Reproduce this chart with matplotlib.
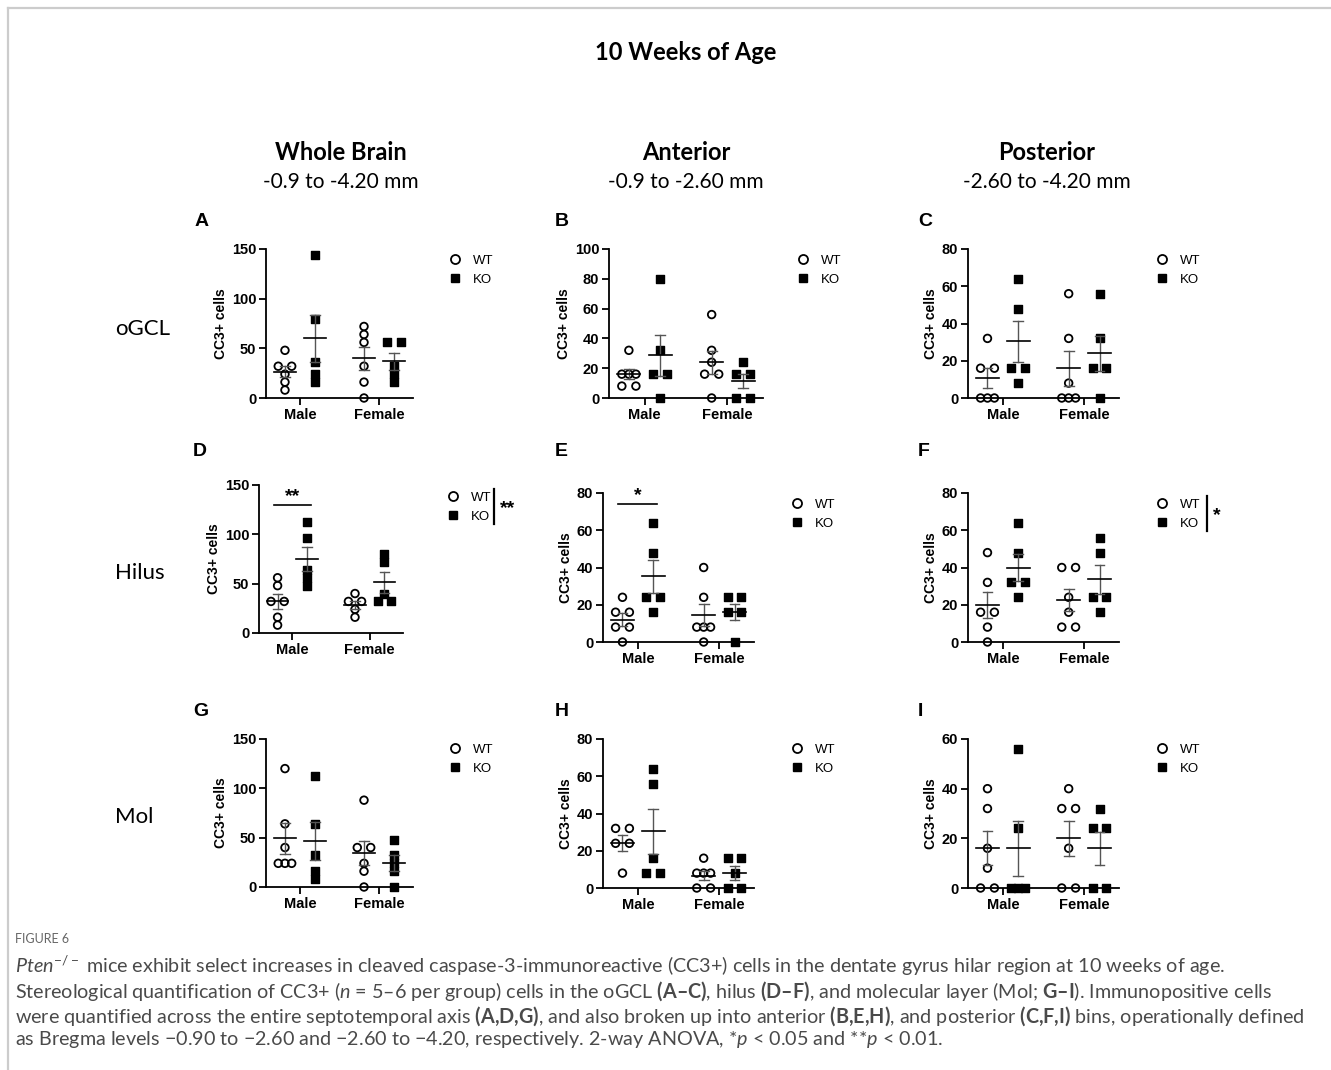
import numpy as np
import matplotlib
matplotlib.use("Agg")
import matplotlib.pyplot as plt
from matplotlib.lines import Line2D

W, H = 1331, 1070

plt.rcParams['font.family'] = ['Liberation Sans', 'DejaVu Sans']
plt.rcParams['mathtext.fontset'] = 'custom'
plt.rcParams['mathtext.rm'] = 'Lato'
plt.rcParams['mathtext.it'] = 'Lato:italic'
plt.rcParams['mathtext.bf'] = 'Lato:bold'

# ---- data (CC3+ cells per animal) ----
groups = ['Male', 'Female']
genotypes = ['WT', 'KO']

panel_letters = ['A', 'B', 'C', 'D', 'E', 'F', 'G', 'H', 'I']
row_names = ['oGCL', 'Hilus', 'Mol']
col_titles = ['Whole Brain', 'Anterior', 'Posterior']
col_ranges = ['-0.9 to -4.20 mm', '-0.9 to -2.60 mm', '-2.60 to -4.20 mm']

a_male_wt = [48, 32, 32, 24, 16, 8]
a_male_ko = [144, 80, 36, 24, 16]
a_female_wt = [72, 64, 56, 32, 16, 0]
a_female_ko = [56, 56, 32, 24, 16]

b_male_wt = [32, 16, 16, 16, 8, 8]
b_male_ko = [80, 32, 16, 16, 0]
b_female_wt = [56, 32, 24, 16, 16, 0]
b_female_ko = [24, 16, 16, 0, 0]

c_male_wt = [32, 16, 16, 0, 0, 0]
c_male_ko = [64, 48, 16, 16, 8]
c_female_wt = [56, 32, 8, 0, 0, 0]
c_female_ko = [56, 32, 16, 16, 0]

d_male_wt = [56, 48, 32, 32, 16, 8]
d_male_ko = [112, 96, 64, 56, 48]
d_female_wt = [40, 32, 32, 24, 16]
d_female_ko = [80, 72, 40, 32, 32]

e_male_wt = [24, 16, 16, 8, 8, 0]
e_male_ko = [64, 48, 24, 24, 16]
e_female_wt = [40, 24, 8, 8, 8, 0]
e_female_ko = [24, 24, 16, 16, 0]

f_male_wt = [48, 32, 16, 16, 8, 0]
f_male_ko = [64, 48, 32, 32, 24]
f_female_wt = [40, 40, 24, 16, 8, 8]
f_female_ko = [56, 48, 24, 24, 16]

g_male_wt = [120, 64, 40, 24, 24, 24]
g_male_ko = [112, 64, 32, 16, 8]
g_female_wt = [88, 40, 40, 24, 16, 0]
g_female_ko = [48, 32, 24, 16, 0]

h_male_wt = [32, 32, 24, 24, 8]
h_male_ko = [64, 56, 16, 8, 8]
h_female_wt = [16, 8, 8, 8, 0, 0]
h_female_ko = [16, 16, 8, 0, 0]

i_male_wt = [40, 32, 16, 8, 0, 0]
i_male_ko = [56, 24, 0, 0, 0]
i_female_wt = [40, 32, 32, 16, 0, 0]
i_female_ko = [32, 24, 24, 0, 0]

panel_data = [
    [a_male_wt, a_male_ko, a_female_wt, a_female_ko],
    [b_male_wt, b_male_ko, b_female_wt, b_female_ko],
    [c_male_wt, c_male_ko, c_female_wt, c_female_ko],
    [d_male_wt, d_male_ko, d_female_wt, d_female_ko],
    [e_male_wt, e_male_ko, e_female_wt, e_female_ko],
    [f_male_wt, f_male_ko, f_female_wt, f_female_ko],
    [g_male_wt, g_male_ko, g_female_wt, g_female_ko],
    [h_male_wt, h_male_ko, h_female_wt, h_female_ko],
    [i_male_wt, i_male_ko, i_female_wt, i_female_ko],
]
y_max = [150, 100, 80, 150, 80, 80, 150, 80, 60]
y_step = [50, 20, 20, 50, 20, 20, 50, 20, 20]

# significance (within-male bar), per panel
sig_male = {3: (130, '**'), 4: (74, '*')}
sig_genotype = {3: '**', 5: '*'}

# ---- layout in pixels: x0, x1, y_top, y_zero ----
boxes = [
    (266, 413, 249, 398), (609, 763, 249, 398), (968, 1119, 249, 398),
    (259, 403, 485, 633), (603, 754, 493, 642), (968, 1119, 493, 642),
    (266, 413, 739, 887), (603, 754, 739, 888), (968, 1119, 739, 888),
]
letter_pos = [(195, 222), (555, 222), (918, 222),
              (193, 451), (555, 451), (918, 451),
              (193, 711), (555, 711), (918, 711)]
legend_pos = [(455, 270), (803, 270), (1162, 270),
              (453, 507), (797, 514), (1162, 514),
              (455, 759), (797, 759), (1162, 759)]


def spread(vals, d):
    # tied values: pairs go left/right, odd counts keep one in the middle
    vals = np.asarray(vals)
    offs = np.zeros(len(vals))
    for v in np.unique(vals):
        idx = np.where(vals == v)[0]
        n = len(idx)
        if n % 2:
            slots = [0] + [s * j for j in range(1, n // 2 + 1) for s in (-1, 1)]
        else:
            slots = [s * j for j in range(1, n // 2 + 1) for s in (-1, 1)]
        offs[idx] = np.array(slots[:n]) * d
    return offs


fig = plt.figure(figsize=(W / 100, H / 100), dpi=100)

# frame
fig.add_artist(Line2D([8 / W, 1], [1 - 8 / H, 1 - 8 / H], color='#cccccc', lw=1.6))
fig.add_artist(Line2D([8 / W, 8 / W], [0, 1 - 8 / H], color='#cccccc', lw=1.6))

fig.text(686 / W, 1 - 53 / H, '10 Weeks of Age', ha='center', va='center',
         family='Lato', weight='bold', fontsize=17)
col_x = [341, 686, 1047]
for cx, t, r in zip(col_x, col_titles, col_ranges):
    fig.text(cx / W, 1 - 152 / H, t, ha='center', va='center', family='Lato',
             weight='bold', fontsize=17)
    fig.text(cx / W, 1 - 182 / H, r, ha='center', va='center', family='Lato',
             fontsize=15)
for ry, name in zip([329, 573, 817], row_names):
    fig.text(115 / W, 1 - ry / H, name, ha='left', va='center', family='Lato',
             fontsize=16)

off = 0.19
for k in range(9):
    x0, x1, yt, yz = boxes[k]
    ax = fig.add_axes([x0 / W, 1 - yz / H, (x1 - x0) / W, (yz - yt) / H])
    vals = panel_data[k]
    for gi in range(2):
        for ti in range(2):
            v = np.array(vals[gi * 2 + ti], dtype=float)
            xc = gi + (-off if ti == 0 else off)
            xs = xc + spread(v, 0.085)
            if ti == 0:
                ax.scatter(xs, v, s=30, marker='o', facecolors='none',
                           edgecolors='black', linewidths=1.3, clip_on=False, zorder=3)
            else:
                ax.scatter(xs, v, s=34, marker='s', color='black',
                           clip_on=False, zorder=3)
            m = v.mean()
            se = v.std(ddof=1) / np.sqrt(len(v))
            ax.plot([xc, xc], [m - se, m + se], color='#555555', lw=1.0, zorder=4)
            for yy in (m - se, m + se):
                ax.plot([xc - 0.06, xc + 0.06], [yy, yy], color='#555555', lw=1.0, zorder=4)
            ax.plot([xc - 0.14, xc + 0.14], [m, m], color='black', lw=1.2, zorder=5)

    ax.set_xlim(-0.43, 1.43)
    ax.set_ylim(0, y_max[k])
    ax.set_yticks(np.arange(0, y_max[k] + 1, y_step[k]))
    ax.set_xticks([0, 1])
    ax.set_xticklabels(groups)
    for s in ('top', 'right'):
        ax.spines[s].set_visible(False)
    for s in ('left', 'bottom'):
        ax.spines[s].set_linewidth(1.3)
    ax.tick_params(axis='both', width=1.3, length=5, labelsize=10.5, pad=2)
    for lab in ax.get_xticklabels() + ax.get_yticklabels():
        lab.set_fontweight('bold')
    ax.set_ylabel('CC3+ cells', fontsize=10, fontweight='bold', labelpad=3)

    if k in sig_male:
        yv, st = sig_male[k]
        ax.plot([-0.24, 0.24], [yv, yv], color='black', lw=1.2, clip_on=False)
        ax.text(0, yv, st, ha='center', va='bottom', fontsize=14, fontweight='bold')

    lx, ly = legend_pos[k]
    h_wt = Line2D([], [], marker='o', ls='none', mfc='none', mec='black', mew=1.3, ms=6.5)
    h_ko = Line2D([], [], marker='s', ls='none', color='black', ms=6)
    ax.legend([h_wt, h_ko], genotypes, loc='center left', frameon=False,
              bbox_to_anchor=((lx - 7) / W, 1 - ly / H), bbox_transform=fig.transFigure,
              borderpad=0, borderaxespad=0, handlelength=1.0, handletextpad=0.9,
              labelspacing=0.5, fontsize=9.5)
    if k in sig_genotype:
        bx = lx + 41 if k == 3 else lx + 45
        fig.add_artist(Line2D([bx / W, bx / W], [1 - (ly - 18) / H, 1 - (ly + 17) / H],
                              color='black', lw=1.6))
        fig.text((bx + 6) / W, 1 - (ly + 2) / H, sig_genotype[k], ha='left', va='center',
                 fontsize=14, fontweight='bold')

    px, py = letter_pos[k]
    fig.text(px / W, 1 - py / H, panel_letters[k], ha='left', va='center',
             fontsize=14, fontweight='bold')

# caption
cap_color = '#4a4a4a'
fig.text(15 / W, 1 - 939 / H, 'FIGURE 6', ha='left', va='center', family='Lato',
         fontsize=9, color='#666666')
cap_lines = [
    r'$\mathit{Pten}^{-/-}$ mice exhibit select increases in cleaved caspase-3-immunoreactive (CC3+) cells in the dentate gyrus hilar region at 10 weeks of age.',
    r'Stereological quantification of CC3+ ($\mathit{n}$ = 5–6 per group) cells in the oGCL $\mathbf{(A–C)}$, hilus $\mathbf{(D–F)}$, and molecular layer (Mol; $\mathbf{G–I}$). Immunopositive cells',
    r'were quantified across the entire septotemporal axis $\mathbf{(A{,}D{,}G)}$, and also broken up into anterior $\mathbf{(B{,}E{,}H)}$, and posterior $\mathbf{(C{,}F{,}I)}$ bins, operationally defined',
    r'as Bregma levels −0.90 to −2.60 and −2.60 to −4.20, respectively. 2-way ANOVA, *$\mathit{p}$ < 0.05 and **$\mathit{p}$ < 0.01.',
]
for yy, line in zip([966, 991, 1016, 1040], cap_lines):
    fig.text(15 / W, 1 - yy / H, line, ha='left', va='center', family='Lato',
             fontsize=14.2, color=cap_color)

fig.savefig('out.png', dpi=100)
